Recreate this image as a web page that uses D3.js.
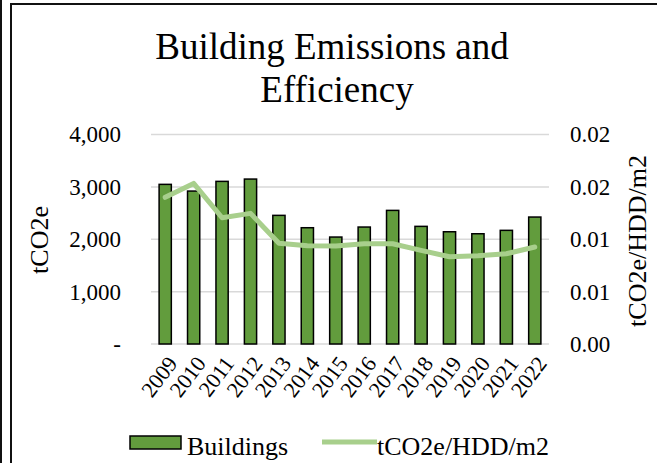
<!DOCTYPE html>
<html>
<head>
<meta charset="utf-8">
<script src="https://d3js.org/d3.v7.min.js"></script>
<style>
  body { margin: 0; background: white; }
  text { font-family: "Liberation Serif", "Times New Roman", serif; fill: #000; }
</style>
</head>
<body>
<svg width="657" height="463"></svg>
<script>
// chart data
var years = ['2009','2010','2011','2012','2013','2014','2015','2016','2017','2018','2019','2020','2021','2022'];
var buildings = [3048, 2920, 3105, 3149, 2456, 2220, 2042, 2233, 2551, 2246, 2143, 2105, 2170, 2424];
var intensity = [0.0140, 0.01533, 0.01205, 0.01247, 0.00961, 0.00938, 0.00935, 0.00957, 0.00957, 0.00894, 0.00833, 0.00843, 0.00862, 0.00926];
var leftTicks = [0, 1000, 2000, 3000, 4000];
var leftLabels = ['-', '1,000', '2,000', '3,000', '4,000'];
var rightTicks = [0, 0.005, 0.01, 0.015, 0.02];
var rightLabels = ['0.00', '0.01', '0.01', '0.02', '0.02'];

var svg = d3.select('svg');

// frame lines
svg.append('line').attr('x1', 1).attr('x2', 1).attr('y1', 0).attr('y2', 463)
  .attr('stroke', '#111').attr('stroke-width', 2);
svg.append('path').attr('d', 'M11,463V4H657')
  .attr('fill', 'none').attr('stroke', '#111').attr('stroke-width', 2);

var x = d3.scaleBand().domain(years).range([151, 549]).paddingInner(0.57).paddingOuter(0.285);
var y = d3.scaleLinear().domain([0, 4000]).range([344, 134.5]);
var y2 = d3.scaleLinear().domain([0, 0.02]).range([344, 134.5]);

// gridlines
svg.append('g').selectAll('line')
  .data(leftTicks).enter().append('line')
  .attr('x1', 151).attr('x2', 549)
  .attr('y1', function(d) { return y(d); })
  .attr('y2', function(d) { return y(d); })
  .attr('stroke', '#d9d9d9').attr('stroke-width', 1.5);

// left axis
svg.append('g')
  .attr('transform', 'translate(121,0)')
  .call(d3.axisLeft(y).tickValues(leftTicks).tickSize(0).tickPadding(0)
        .tickFormat(function(d, i) { return leftLabels[i]; }))
  .call(function(g) { g.select('.domain').remove(); })
  .selectAll('text')
  .style('font-size', '23px');

// right axis
svg.append('g')
  .attr('transform', 'translate(570,0)')
  .call(d3.axisRight(y2).tickValues(rightTicks).tickSize(0).tickPadding(0)
        .tickFormat(function(d, i) { return rightLabels[i]; }))
  .call(function(g) { g.select('.domain').remove(); })
  .selectAll('text')
  .style('font-size', '23px');

// bars
svg.append('g').selectAll('rect')
  .data(buildings).enter().append('rect')
  .attr('x', function(d, i) { return x(years[i]); })
  .attr('y', function(d) { return y(d); })
  .attr('width', x.bandwidth())
  .attr('height', function(d) { return y(0) - y(d); })
  .attr('fill', '#629c3d')
  .attr('stroke', '#000')
  .attr('stroke-width', 1.5);

// line
var line = d3.line()
  .x(function(d, i) { return x(years[i]) + x.bandwidth() / 2; })
  .y(function(d) { return y2(d); });
svg.append('path')
  .datum(intensity)
  .attr('d', line)
  .attr('fill', 'none')
  .attr('stroke', '#a8cf8c')
  .attr('stroke-width', 5)
  .attr('stroke-linejoin', 'round')
  .attr('stroke-linecap', 'round');

// x labels
svg.append('g').selectAll('text')
  .data(years).enter().append('text')
  .attr('transform', function(d) {
    return 'translate(' + (x(d) + x.bandwidth() / 2 + 7) + ',359) rotate(-53)';
  })
  .attr('text-anchor', 'end')
  .attr('dy', '0.35em')
  .style('font-size', '22px')
  .text(function(d) { return d; });

// title
svg.append('text').attr('x', 332).attr('y', 59).attr('text-anchor', 'middle')
  .style('font-size', '37px').text('Building Emissions and');
svg.append('text').attr('x', 337).attr('y', 102).attr('text-anchor', 'middle')
  .style('font-size', '37px').text('Efficiency');

// axis titles
svg.append('text').attr('transform', 'translate(48,240) rotate(-90)')
  .attr('text-anchor', 'middle').style('font-size', '26px').text('tCO2e');
svg.append('text').attr('transform', 'translate(646,241) rotate(-90)')
  .attr('text-anchor', 'middle').style('font-size', '26px').text('tCO2e/HDD/m2');

// legend
svg.append('rect').attr('x', 130).attr('y', 436).attr('width', 51).attr('height', 13)
  .attr('fill', '#629c3d').attr('stroke', '#000').attr('stroke-width', 1.5);
svg.append('text').attr('x', 187).attr('y', 455).style('font-size', '26px').text('Buildings');
svg.append('line').attr('x1', 322).attr('x2', 377).attr('y1', 442).attr('y2', 442)
  .attr('stroke', '#a8cf8c').attr('stroke-width', 5);
svg.append('text').attr('x', 377).attr('y', 455).style('font-size', '26px').text('tCO2e/HDD/m2');
</script>
</body>
</html>
